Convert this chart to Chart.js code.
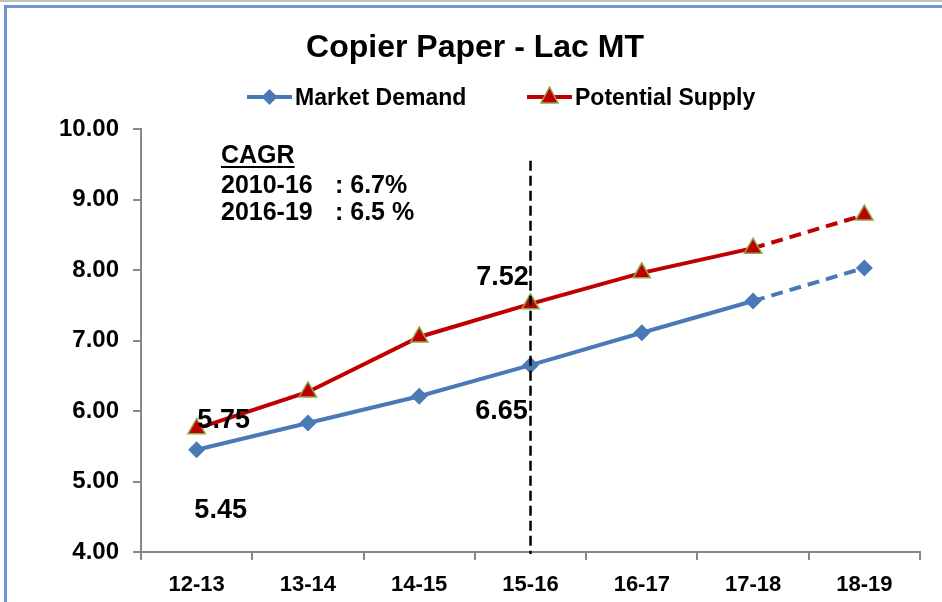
<!DOCTYPE html>
<html>
<head>
<meta charset="utf-8">
<script src="https://cdn.jsdelivr.net/npm/chart.js@4.4.1/dist/chart.umd.min.js"></script>
<style>
  html, body { margin: 0; padding: 0; background: #fff; }
  body { width: 942px; height: 602px; position: relative; overflow: hidden; }
  #topline { position: absolute; left: 0; top: 0; width: 942px; height: 2px; background: #c0c0c0; }
  #frame { position: absolute; left: 4px; top: 5px; width: 950px; height: 610px;
           border-left: 3px solid #6c97d2; border-top: 3px solid #6c97d2; }
  #wrap { position: absolute; left: 0; top: 0; width: 942px; height: 602px; }
</style>
</head>
<body>
<div id="topline"></div>
<div id="frame"></div>
<div id="wrap"><canvas id="grafico" width="942" height="602"></canvas></div>
<script>
const categorias = ['12-13', '13-14', '14-15', '15-16', '16-17', '17-18', '18-19'];
const marketDemand = [5.45, 5.83, 6.21, 6.65, 7.11, 7.56, 8.03];
const potentialSupply = [5.75, 6.27, 7.05, 7.52, 7.96, 8.31, 8.78];
const cagrTitulo = 'CAGR';
const cagrLinhas = ['2010-16', '2016-19'];
const cagrValores = [': 6.7%', ': 6.5 %'];
const divisorEm = '15-16';

const azul = '#4a7ab5';
const vermelho = '#c00000';
const fonte = '"Liberation Sans", Arial, sans-serif';

// pontos com rotulo e deslocamento do texto
const rotulos = [
  { ds: 0, i: 0, dx: 24, dy: 68 },
  { ds: 1, i: 0, dx: 27, dy: -1 },
  { ds: 0, i: 3, dx: -29, dy: 54 },
  { ds: 1, i: 3, dx: -28, dy: -19 }
];

// trecho projetado tracejado (ultimo segmento)
const tracejado = ctx => ctx.p0DataIndex >= categorias.length - 2 ? [12, 7] : undefined;

const extras = {
  id: 'extras',
  afterDatasetsDraw(chart) {
    const { ctx, scales: { x, y } } = chart;
    ctx.save();

    // linha vertical tracejada
    const xd = x.getPixelForValue(categorias.indexOf(divisorEm));
    ctx.strokeStyle = '#000';
    ctx.lineWidth = 2.5;
    ctx.setLineDash([10, 5]);
    ctx.beginPath();
    ctx.moveTo(xd, y.getPixelForValue(9.55));
    ctx.lineTo(xd, y.bottom + 2);
    ctx.stroke();
    ctx.setLineDash([]);

    // rotulos de dados
    ctx.fillStyle = '#000';
    ctx.font = 'bold 27px ' + fonte;
    ctx.textAlign = 'center';
    ctx.textBaseline = 'alphabetic';
    rotulos.forEach(r => {
      const p = chart.getDatasetMeta(r.ds).data[r.i];
      const v = chart.data.datasets[r.ds].data[r.i];
      ctx.fillText(v.toFixed(2), p.x + r.dx, p.y + r.dy);
    });

    // bloco CAGR
    ctx.textAlign = 'left';
    ctx.font = 'bold 25px ' + fonte;
    const x0 = 221;
    ctx.fillText(cagrTitulo, x0, 163);
    const w = ctx.measureText(cagrTitulo).width;
    ctx.fillRect(x0, 166, w, 2);
    cagrLinhas.forEach((t, k) => {
      ctx.fillText(t, x0, 193 + k * 27);
      ctx.fillText(cagrValores[k], 335, 193 + k * 27);
    });

    // legenda
    ctx.font = 'bold 23px ' + fonte;
    const itens = [
      { ds: 0, x: 247 },
      { ds: 1, x: 527 }
    ];
    itens.forEach(it => {
      const d = chart.data.datasets[it.ds];
      const ly = 97;
      ctx.strokeStyle = d.borderColor;
      ctx.lineWidth = 4;
      ctx.beginPath();
      ctx.moveTo(it.x, ly);
      ctx.lineTo(it.x + 45, ly);
      ctx.stroke();
      ctx.fillStyle = d.pointBackgroundColor;
      ctx.strokeStyle = d.pointBorderColor;
      ctx.lineWidth = d.pointBorderWidth;
      ctx.beginPath();
      if (d.pointStyle === 'triangle') {
        ctx.moveTo(it.x + 22.5, ly - 10);
        ctx.lineTo(it.x + 31, ly + 6);
        ctx.lineTo(it.x + 14, ly + 6);
      } else {
        ctx.moveTo(it.x + 22.5, ly - 8);
        ctx.lineTo(it.x + 30.5, ly);
        ctx.lineTo(it.x + 22.5, ly + 8);
        ctx.lineTo(it.x + 14.5, ly);
      }
      ctx.closePath();
      ctx.fill();
      if (d.pointBorderWidth) ctx.stroke();
      ctx.fillStyle = '#000';
      ctx.fillText(d.label, it.x + 48, ly + 8);
    });

    ctx.restore();
  }
};

const ctx = document.getElementById('grafico').getContext('2d');
new Chart(ctx, {
  type: 'line',
  data: {
    labels: categorias,
    datasets: [
      {
        label: 'Market Demand',
        data: marketDemand,
        borderColor: azul,
        borderWidth: 4,
        pointStyle: 'rectRot',
        pointRadius: 8.5,
        pointBackgroundColor: azul,
        pointBorderColor: azul,
        pointBorderWidth: 0,
        segment: { borderDash: tracejado }
      },
      {
        label: 'Potential Supply',
        data: potentialSupply,
        borderColor: vermelho,
        borderWidth: 4,
        pointStyle: 'triangle',
        pointRadius: 10,
        pointBackgroundColor: vermelho,
        pointBorderColor: '#8aa84a',
        pointBorderWidth: 1.5,
        segment: { borderDash: tracejado }
      }
    ]
  },
  options: {
    responsive: false,
    animation: false,
    layout: { padding: { left: 30, right: 22, top: 0, bottom: 0 } },
    plugins: {
      legend: { display: false },
      tooltip: { enabled: false },
      title: {
        display: true,
        text: 'Copier Paper - Lac MT',
        color: '#000',
        font: { family: fonte, size: 32, weight: 'bold', lineHeight: 1.2 },
        padding: { top: 29, bottom: 61.6 }
      }
    },
    scales: {
      x: {
        offset: true,
        grid: { offset: true, drawOnChartArea: false, drawTicks: true, tickLength: 8, color: '#888', lineWidth: 2 },
        border: { display: true, color: '#888', width: 2 },
        ticks: { color: '#000', padding: 12, font: { family: fonte, size: 22, weight: 'bold' } },
        afterFit: s => { s.height = 50; }
      },
      y: {
        min: 4,
        max: 10,
        grid: { drawOnChartArea: false, drawTicks: true, tickLength: 8, color: '#888', lineWidth: 2 },
        border: { display: true, color: '#888', width: 2 },
        ticks: {
          stepSize: 1,
          color: '#000',
          padding: 14,
          font: { family: fonte, size: 24, weight: 'bold' },
          callback: v => v.toFixed(2)
        },
        afterFit: s => { s.width = 111; }
      }
    }
  },
  plugins: [extras]
});
</script>
</body>
</html>
